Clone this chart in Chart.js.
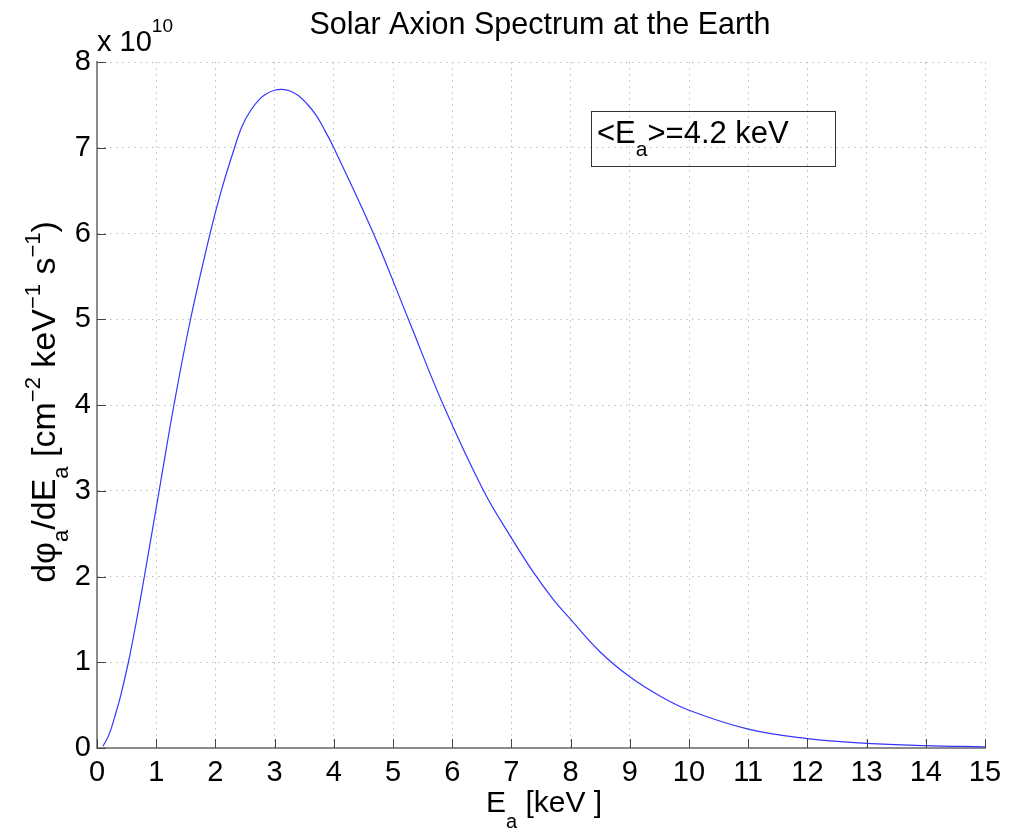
<!DOCTYPE html>
<html>
<head>
<meta charset="utf-8">
<script src="https://cdn.jsdelivr.net/npm/chart.js@4/dist/chart.umd.min.js"></script>
<style>
  html, body { margin: 0; padding: 0; background: #fff; }
  canvas { display: block; }
</style>
</head>
<body>
<canvas id="axionChart" width="1013" height="830"></canvas>
<script>
// energy in keV, flux in units of 1e10 cm^-2 keV^-1 s^-1
const energy = [0.1, 0.2, 0.3, 0.4, 0.53, 0.65, 0.8, 1.05, 1.3, 1.58, 1.91, 2.1, 2.3, 2.45, 2.6, 2.75, 2.85, 3.0, 3.12, 3.25, 3.4, 3.55, 3.7, 3.85, 4.0, 4.67, 5.26, 5.85, 6.53, 7.0, 7.37, 7.7, 8.0, 8.5, 9.0, 9.5, 10, 11, 12, 13, 14, 15];
const flux = [0.02, 0.15, 0.365, 0.61, 1.0, 1.42, 2.0, 3.0, 4.0, 5.0, 6.0, 6.5, 6.95, 7.25, 7.44, 7.57, 7.625, 7.67, 7.68, 7.665, 7.61, 7.51, 7.38, 7.2, 7.0, 6.0, 5.0, 4.0, 3.0, 2.45, 2.05, 1.74, 1.5, 1.12, 0.83, 0.61, 0.44, 0.22, 0.11, 0.055, 0.028, 0.014];
const xTicks = [0, 1, 2, 3, 4, 5, 6, 7, 8, 9, 10, 11, 12, 13, 14, 15];
const yTicks = [0, 1, 2, 3, 4, 5, 6, 7, 8];

const FONT = 'Liberation Sans, Arial, Helvetica, sans-serif';

// draws text runs along a baseline; each run: [text, size, shift]
function drawRuns(ctx, runs, x, y, align) {
    let total = 0;
    runs.forEach(r => {
        ctx.font = r[1] + 'px ' + FONT;
        total += ctx.measureText(r[0]).width;
    });
    let cx = align === 'center' ? x - total / 2 : x;
    runs.forEach(r => {
        ctx.font = r[1] + 'px ' + FONT;
        ctx.fillText(r[0], cx, y + r[2]);
        cx += ctx.measureText(r[0]).width;
    });
}

const decorations = {
    id: 'decorations',
    afterDraw(chart) {
        const ctx = chart.ctx;
        const xs = chart.scales.x;
        const ys = chart.scales.y;
        const area = chart.chartArea;

        // inward tick marks
        ctx.save();
        ctx.strokeStyle = '#444';
        ctx.lineWidth = 1;
        ctx.beginPath();
        xTicks.forEach(t => {
            const px = Math.round(xs.getPixelForValue(t)) + 0.5;
            ctx.moveTo(px, area.bottom);
            ctx.lineTo(px, area.bottom - 9);
        });
        yTicks.forEach(t => {
            const py = Math.round(ys.getPixelForValue(t)) + 0.5;
            ctx.moveTo(area.left, py);
            ctx.lineTo(area.left + 9, py);
        });
        ctx.stroke();

        ctx.fillStyle = '#000';
        ctx.textBaseline = 'alphabetic';
        ctx.textAlign = 'left';

        // title
        drawRuns(ctx, [['Solar Axion Spectrum at the Earth', 30.5, 0]], 540, 34, 'center');

        // exponent
        drawRuns(ctx, [['x 10', 29, 0], ['10', 19, -19]], 97, 51, 'left');

        // x axis label
        drawRuns(ctx, [['E', 30, 0], ['a', 20, 16], [' [keV ]', 30, 0]], 544, 812, 'center');

        // y axis label (rotated)
        ctx.save();
        ctx.translate(55, 402);
        ctx.rotate(-Math.PI / 2);
        drawRuns(ctx, [
            ['d\u03c6', 34, 0], ['a', 22, 13], ['/dE', 34, 0], ['a', 22, 13],
            [' [cm', 34, 0], ['\u22122', 22, -15], [' keV', 34, 0], ['\u22121', 22, -15],
            [' s', 34, 0], ['\u22121', 22, -15], [')', 34, 0]
        ], 0, 0, 'center');
        ctx.restore();

        // annotation box
        ctx.strokeStyle = '#333';
        ctx.lineWidth = 1;
        ctx.strokeRect(591.5, 111.5, 244, 55);
        drawRuns(ctx, [['<E', 31, 0], ['a', 21, 13], ['>=4.2 keV', 31, 0]], 597, 143, 'left');
        ctx.restore();
    }
};

const ctx = document.getElementById('axionChart').getContext('2d');
const axionChart = new Chart(ctx, {
    type: 'line',
    data: {
        datasets: [{
            data: energy.map((e, i) => ({ x: e, y: flux[i] })),
            borderColor: '#3535ff',
            borderWidth: 1.2,
            pointRadius: 0,
            fill: false,
            tension: 0.4
        }]
    },
    options: {
        responsive: false,
        animation: false,
        layout: { padding: { top: 62, right: 28, left: 0, bottom: 0 } },
        plugins: {
            legend: { display: false },
            tooltip: { enabled: false }
        },
        scales: {
            x: {
                type: 'linear',
                min: 0,
                max: 15,
                afterFit: scale => { scale.height = 82; },
                afterBuildTicks: scale => { scale.ticks = xTicks.map(v => ({ value: v })); },
                ticks: {
                    autoSkip: false,
                    maxRotation: 0,
                    padding: 8,
                    color: '#000',
                    font: { family: FONT, size: 29 }
                },
                grid: { color: '#bdbdbd', lineWidth: 1, drawTicks: false },
                border: { display: true, color: '#8c8c8c', width: 2, dash: [1.5, 4.5] }
            },
            y: {
                min: 0,
                max: 8,
                afterFit: scale => { scale.width = 97; },
                afterBuildTicks: scale => { scale.ticks = yTicks.map(v => ({ value: v })); },
                ticks: {
                    padding: 6,
                    color: '#000',
                    font: { family: FONT, size: 29 }
                },
                grid: { color: '#bdbdbd', lineWidth: 1, drawTicks: false },
                border: { display: true, color: '#8c8c8c', width: 2, dash: [1.5, 4.5] }
            }
        }
    },
    plugins: [decorations]
});
</script>
</body>
</html>
